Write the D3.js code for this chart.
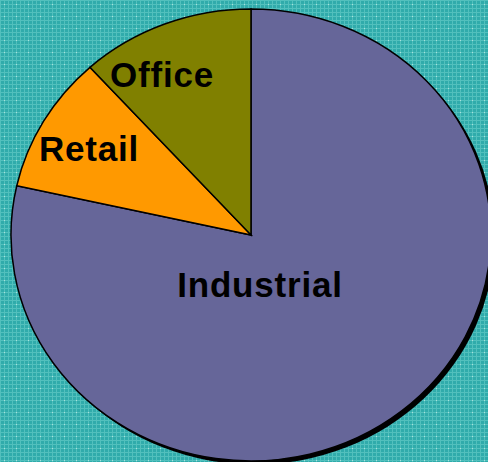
<!DOCTYPE html>
<html>
<head>
<meta charset="utf-8">
<script src="https://cdn.jsdelivr.net/npm/d3@7"></script>
<style>
  body { margin: 0; }
  svg { display: block; }
</style>
</head>
<body>
<div id="chart"></div>
<script>
const categories = ["Industrial", "Retail", "Office"];
const values = [78.5, 9.8, 11.7];
const colors = ["#666699", "#FF9900", "#808000"];

const w = 488;
const h = 462;
const cx = 251, cy = 235;
const rx = 240, ry = 226;

const svg = d3.select("#chart")
              .append("svg")
              .attr("width", w)
              .attr("height", h);

// teal checked background
const defs = svg.append("defs");
const pat = defs.append("pattern")
                .attr("id", "bg")
                .attr("width", 12)
                .attr("height", 12)
                .attr("patternUnits", "userSpaceOnUse");
pat.append("rect").attr("width", 12).attr("height", 12).attr("fill", "#30ABAB");
[0, 4, 8].forEach(p => {
  pat.append("rect").attr("x", p).attr("y", 0).attr("width", 1).attr("height", 12).attr("fill", "#52C0BD");
  pat.append("rect").attr("x", 0).attr("y", p).attr("width", 12).attr("height", 1).attr("fill", "#52C0BD");
});
pat.append("rect").attr("x", 4).attr("y", 4).attr("width", 1).attr("height", 1).attr("fill", "#A8E0DC");

svg.append("rect").attr("width", w).attr("height", h).attr("fill", "url(#bg)");

const data = categories.map((c, i) => ({ name: c, value: values[i], color: colors[i] }));

const pie = d3.pie().value(d => d.value).sort(null);
const arcs = pie(data);
const arc = d3.arc().innerRadius(0).outerRadius(1);

// shadow
svg.append("ellipse")
   .attr("cx", cx + 3.5)
   .attr("cy", cy + 3.5)
   .attr("rx", rx)
   .attr("ry", ry)
   .attr("fill", "#000");

const g = svg.append("g")
             .attr("transform", `translate(${cx},${cy}) scale(${rx},${ry})`);

g.selectAll("path")
 .data(arcs)
 .enter()
 .append("path")
 .attr("d", arc)
 .attr("fill", d => d.data.color)
 .attr("stroke", "#000")
 .attr("stroke-width", 1.5)
 .attr("vector-effect", "non-scaling-stroke");

// labels
const labelPos = { Industrial: [260, 297], Retail: [89, 161], Office: [162, 87] };
svg.selectAll("text.lbl")
   .data(arcs)
   .enter()
   .append("text")
   .attr("class", "lbl")
   .attr("x", d => labelPos[d.data.name][0])
   .attr("y", d => labelPos[d.data.name][1])
   .attr("text-anchor", "middle")
   .attr("font-family", "Liberation Sans, Arial, sans-serif")
   .attr("font-weight", "bold")
   .attr("font-size", 35)
   .attr("letter-spacing", 0.8)
   .attr("fill", "#000")
   .text(d => d.data.name);
</script>
</body>
</html>
